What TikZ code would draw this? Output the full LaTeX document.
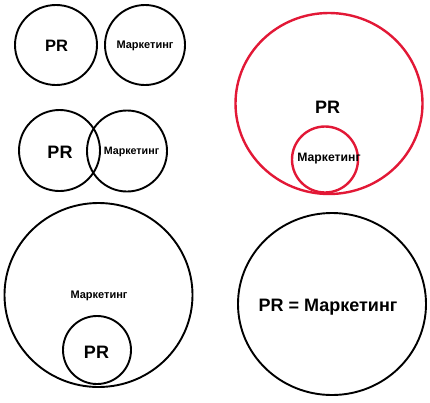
\documentclass[tikz,border=0pt]{standalone}
\usepackage{fontspec}
\setmainfont{Liberation Sans}
\definecolor{vred}{RGB}{226,24,54}
\begin{document}
\begin{tikzpicture}[x=1pt,y=-1pt,
  blk/.style={draw=black,line width=1.9pt},
  redc/.style={draw=vred,line width=2.4pt},
  lbl/.style={inner sep=0pt,font=\bfseries}]
\useasboundingbox (0,0) rectangle (430,402);
% row 1: separate
\draw[blk] (56,45) ellipse [x radius=41,y radius=40];
\draw[blk] (145,45) ellipse [x radius=40,y radius=40];
\node[lbl,font=\bfseries\fontsize{16.5}{18}\selectfont] (pr1) at (56.5,46) {PR};
\node[lbl,font=\bfseries\fontsize{11}{12}\selectfont] (m1) at (145,46) {Маркетинг};
% row 2: overlapping
\draw[blk] (59.5,150.5) ellipse [x radius=40.5,y radius=40.5];
\draw[blk] (127,151) ellipse [x radius=40,y radius=40.5];
\node[lbl,font=\bfseries\fontsize{18}{20}\selectfont] (pr2) at (60,152) {PR};
\node[lbl,font=\bfseries\fontsize{10.7}{12}\selectfont] (m2) at (131.5,152) {Маркетинг};
% red: PR contains marketing
\draw[redc] (329,103.5) ellipse [x radius=93.5,y radius=90.5];
\draw[redc] (325,159.5) ellipse [x radius=33,y radius=33];
\node[lbl,font=\bfseries\fontsize{18}{20}\selectfont] (pr3) at (327.5,107) {PR};
\node[lbl,font=\bfseries\fontsize{12.2}{14}\selectfont] (m3) at (329,159) {Маркетинг};
% bottom left: marketing contains PR
\draw[blk] (98.5,295) ellipse [x radius=94,y radius=92];
\draw[blk] (97,350) ellipse [x radius=34,y radius=34];
\node[lbl,font=\bfseries\fontsize{11}{12}\selectfont] (m4) at (99,296) {Маркетинг};
\node[lbl,font=\bfseries\fontsize{18}{20}\selectfont] (pr4) at (96.5,352) {PR};
% bottom right: equal
\draw[blk] (332,304) ellipse [x radius=94,y radius=91];
\node[lbl,font=\bfseries\fontsize{18}{20}\selectfont] (eq) at (328,307) {PR = Маркетинг};
\end{tikzpicture}
\end{document}
